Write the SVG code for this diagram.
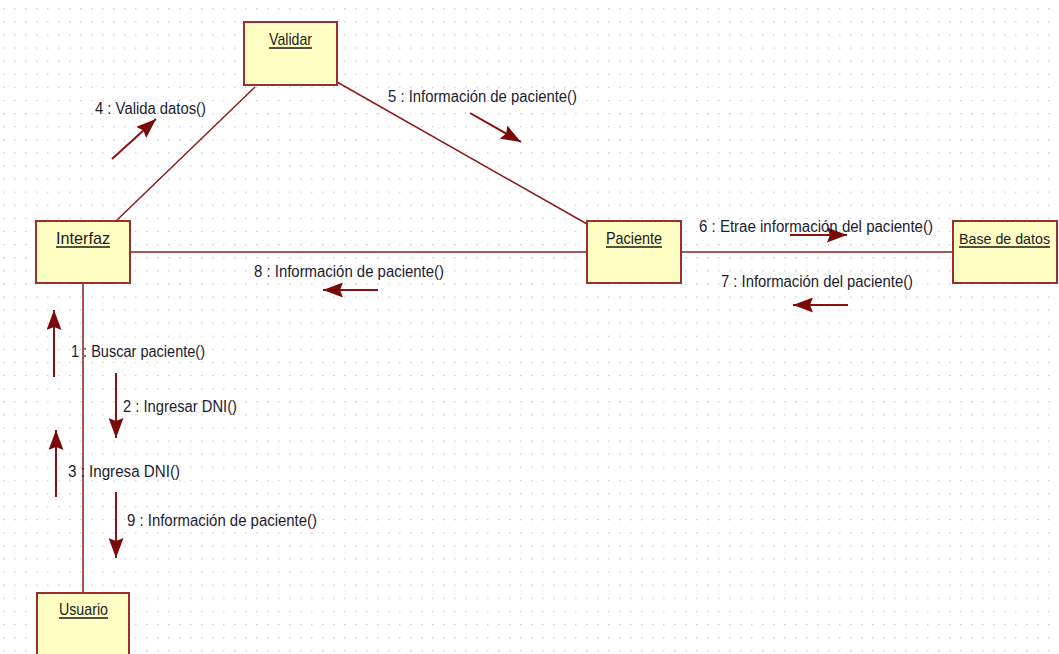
<svg xmlns="http://www.w3.org/2000/svg" width="1059" height="654" viewBox="0 0 1059 654">
<style>
.node rect{fill:#ffffc4;stroke:#9b2f2f;stroke-width:2}
.name{font-family:"Liberation Sans",Arial,sans-serif;font-size:17px;fill:#1a1a1a}
.ul{stroke:#1a1a1a;stroke-width:1.6}
.conn line{stroke:#8b1c1c;stroke-width:1.5}
.msg line{stroke:#8b1010;stroke-width:2;marker-end:url(#ah)}
.lbl{font-family:"Liberation Sans",Arial,sans-serif;font-size:16px;fill:#1c1c30}
</style>
<defs>
<pattern id="grid" patternUnits="userSpaceOnUse" x="14.2" y="8.2" width="11" height="13.1">
<rect x="0" y="0" width="1.2" height="1.2" fill="#bdbdbd"/>
</pattern>
<marker id="ah" markerUnits="userSpaceOnUse" markerWidth="20" markerHeight="15" refX="20" refY="7.5" orient="auto">
<path d="M0,0 L20,7.5 L0,15 L3,7.5 z" fill="#7a0a0a"/>
</marker>
</defs>
<rect width="1059" height="654" fill="#ffffff"/>
<rect width="1059" height="654" fill="url(#grid)"/>
<g id="connectors" class="conn">
<line x1="130" y1="252" x2="587" y2="252"/>
<line x1="681" y1="252" x2="953" y2="252"/>
<line x1="255" y1="87" x2="116" y2="221"/>
<line x1="337" y1="82" x2="587" y2="224"/>
<line x1="83" y1="283" x2="83" y2="593"/>
</g>
<g id="messages" class="msg">
<line x1="112" y1="159" x2="156" y2="119"/>
<line x1="470" y1="113" x2="521" y2="142"/>
<line x1="790" y1="235" x2="847" y2="235"/>
<line x1="848" y1="305" x2="793" y2="305"/>
<line x1="378" y1="290" x2="323" y2="290"/>
<line x1="54" y1="377" x2="54" y2="310"/>
<line x1="116" y1="373" x2="116" y2="438"/>
<line x1="56" y1="497" x2="56" y2="430"/>
<line x1="116" y1="492" x2="116" y2="558"/>
</g>
<g id="labels">
<text class="lbl" x="95" y="114" textLength="111" lengthAdjust="spacingAndGlyphs">4 : Valida datos()</text>
<text class="lbl" x="388" y="102" textLength="189" lengthAdjust="spacingAndGlyphs">5 : Información de paciente()</text>
<text class="lbl" x="699" y="232" textLength="234" lengthAdjust="spacingAndGlyphs">6 : Etrae información del paciente()</text>
<text class="lbl" x="721" y="287" textLength="192" lengthAdjust="spacingAndGlyphs">7 : Información del paciente()</text>
<text class="lbl" x="254" y="277" textLength="190" lengthAdjust="spacingAndGlyphs">8 : Información de paciente()</text>
<text class="lbl" x="71" y="357" textLength="134" lengthAdjust="spacingAndGlyphs">1 : Buscar paciente()</text>
<text class="lbl" x="123" y="412" textLength="114" lengthAdjust="spacingAndGlyphs">2 : Ingresar DNI()</text>
<text class="lbl" x="68" y="477" textLength="112" lengthAdjust="spacingAndGlyphs">3 : Ingresa DNI()</text>
<text class="lbl" x="127" y="526" textLength="190" lengthAdjust="spacingAndGlyphs">9 : Información de paciente()</text>
</g>
<g id="validar" class="node">
<rect x="244" y="22" width="93" height="63"/>
<text class="name" x="269" y="45" textLength="43" lengthAdjust="spacingAndGlyphs">Validar</text>
<line class="ul" x1="269" y1="48" x2="312" y2="48"/>
</g>
<g id="interfaz" class="node">
<rect x="36" y="221" width="94" height="62"/>
<text class="name" x="56" y="244" textLength="54" lengthAdjust="spacingAndGlyphs">Interfaz</text>
<line class="ul" x1="56" y1="247" x2="110" y2="247"/>
</g>
<g id="paciente" class="node">
<rect x="587" y="221" width="94" height="62"/>
<text class="name" x="606" y="244" textLength="56" lengthAdjust="spacingAndGlyphs">Paciente</text>
<line class="ul" x1="606" y1="247" x2="662" y2="247"/>
</g>
<g id="basedatos" class="node">
<rect x="953" y="221" width="104" height="62"/>
<text class="name" x="959" y="244" style="font-size:15px" textLength="91" lengthAdjust="spacingAndGlyphs">Base de datos</text>
<line class="ul" x1="959" y1="247" x2="1050" y2="247"/>
</g>
<g id="usuario" class="node">
<rect x="37" y="593" width="92" height="70"/>
<text class="name" x="59" y="615" textLength="49" lengthAdjust="spacingAndGlyphs">Usuario</text>
<line class="ul" x1="59" y1="618" x2="108" y2="618"/>
</g>
</svg>
